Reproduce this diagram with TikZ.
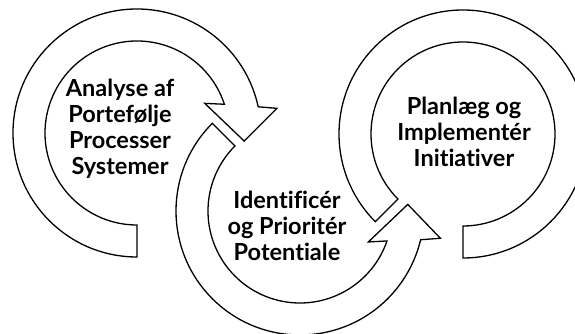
\documentclass[tikz,border=0pt]{standalone}
\usepackage{fontspec}
\setmainfont{Lato}[Ligatures=NoCommon]
\begin{document}
\begin{tikzpicture}[x=1pt,y=1pt]
\tikzset{
  ring/.style={draw=black, fill=white, line width=1.3pt, line join=miter},
  lbl/.style={align=center, font=\fontsize{23.5}{26}\selectfont\bfseries, inner sep=0pt, text=black}
}
\useasboundingbox (0,0) rectangle (575,334);
% arrow 3 (right ring, no head)
\begin{scope}[shift={(463,200)}]
\draw[ring] (270:124) arc[start angle=270, end angle=585, radius=124pt]
  -- (225:92) arc[start angle=585, end angle=270, radius=92pt] -- cycle;
\end{scope}
% arrow 1 (left, clockwise)
\begin{scope}[shift={(137,201)}]
\draw[ring] (270:124) arc[start angle=270, end angle=12.2, radius=124pt]
  -- (10:142) -- (-4.3:107.5) -- (23.6:74) -- (18.2:92)
  arc[start angle=18.2, end angle=270, radius=92pt] -- cycle;
\end{scope}
% arrow 2 (middle, counter-clockwise)
\begin{scope}[shift={(300,123)}]
\draw[ring] (135:124) arc[start angle=135, end angle=346.6, radius=124pt]
  -- (349:143) -- (3.5:108) -- (335.6:75) -- (341:92)
  arc[start angle=341, end angle=135, radius=92pt] -- cycle;
\end{scope}
\node[lbl] (t1) at (120,205) {Analyse af\\Portefølje\\Processer\\Systemer};
\node[lbl] (t2) at (287,108.5) {Identificér\\og Prioritér\\Potentiale};
\node[lbl] (t3) at (464,202) {Planlæg og\\Implementér\\Initiativer};
\end{tikzpicture}
\end{document}
